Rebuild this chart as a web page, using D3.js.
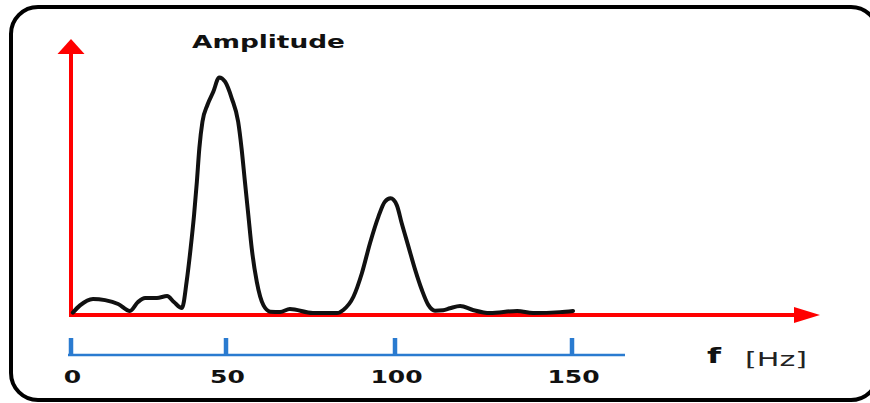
<!DOCTYPE html>
<html>
<head>
<meta charset="utf-8">
<script src="https://cdn.jsdelivr.net/npm/d3@7"></script>
<style>
  html, body { margin: 0; padding: 0; background: #fff; }
  svg { display: block; }
  text { font-family: "DejaVu Sans", Verdana, sans-serif; }
</style>
</head>
<body>
<svg id="chart" width="870" height="403"></svg>
<script>
// Spectrum: frequency (Hz) and relative amplitude
const freqHz = [0.6, 2.9, 7.1, 11.0, 15.2, 19.0, 21.6, 23.9, 27.7, 31.0, 33.2, 35.8,
  37.3, 38.6, 39.7, 40.6, 41.4, 42.4, 44.0, 45.9, 47.8, 49.7, 51.7, 53.6, 54.6, 55.6,
  56.6, 57.6, 59.1, 61.1, 63.1, 66.0, 68.9, 75.7, 82.8, 84.7, 87.7, 90.2, 92.6, 95.1,
  97.0, 98.7, 100.5, 101.9, 103.8, 105.7, 107.6, 109.4, 111.3, 113.6, 115.5, 118.4,
  122.0, 126.8, 134.5, 139.0, 146.6, 150.3];
const amplitude = [0.01, 0.04, 0.067, 0.062, 0.046, 0.017, 0.054, 0.071, 0.071, 0.079, 0.054, 0.029,
  0.139, 0.279, 0.417, 0.555, 0.695, 0.805, 0.875, 0.93, 0.99, 0.972, 0.903, 0.805, 0.695, 0.555,
  0.417, 0.279, 0.139, 0.04, 0.014, 0.012, 0.025, 0.008, 0.008, 0.021, 0.076, 0.174, 0.299, 0.41,
  0.472, 0.486, 0.458, 0.382, 0.285, 0.188, 0.104, 0.042, 0.018, 0.02, 0.028, 0.0375,
  0.021, 0.008, 0.017, 0.008, 0.012, 0.017];

// Frequency scale ticks
const tickValues = [0, 50, 100, 150];
const tickLabels = ["0", "50", "100", "150"];

const svg = d3.select("#chart");

// Hand-spaced frequency ruler: piecewise linear scale
const x = d3.scaleLinear()
  .domain([0, 50, 100, 150, 165])
  .range([71, 226, 395, 572, 625]);
const y = d3.scaleLinear().domain([0, 1]).range([315, 75]);

// Rounded frame (extends past the right edge)
svg.append("rect")
  .attr("x", 11).attr("y", 7)
  .attr("width", 867).attr("height", 393)
  .attr("rx", 27).attr("ry", 27)
  .attr("fill", "none").attr("stroke", "#000").attr("stroke-width", 4);

// Red axes with arrowheads
const red = "#ff0000";
const x0 = x(0), yBase = y(0);
svg.append("line")
  .attr("x1", x0).attr("y1", yBase + 2).attr("x2", x0).attr("y2", 53)
  .attr("stroke", red).attr("stroke-width", 4);
svg.append("path")
  .attr("d", `M${x0},39 L${x0 + 13.5},54 L${x0 - 13.5},54 Z`)
  .attr("fill", red);
svg.append("line")
  .attr("x1", x0 - 2).attr("y1", yBase).attr("x2", 795).attr("y2", yBase)
  .attr("stroke", red).attr("stroke-width", 4);
svg.append("path")
  .attr("d", `M820,${yBase} L794,${yBase - 8} L794,${yBase + 8} Z`)
  .attr("fill", red);

// Spectrum trace
const pts = freqHz.map((f, i) => [f, amplitude[i]]);
svg.append("path")
  .datum(pts)
  .attr("d", d3.line()
    .x(d => x(d[0]))
    .y(d => y(d[1]))
    .curve(d3.curveMonotoneX))
  .attr("fill", "none")
  .attr("stroke", "#111")
  .attr("stroke-width", 4)
  .attr("stroke-linejoin", "round")
  .attr("stroke-linecap", "round");

// Blue frequency ruler
const blue = "#2a7bd0";
const rulerY = 355;
svg.append("line")
  .attr("x1", x(0) - 3).attr("y1", rulerY).attr("x2", x(165)).attr("y2", rulerY)
  .attr("stroke", blue).attr("stroke-width", 2.5);
svg.selectAll(".tick")
  .data(tickValues)
  .join("line")
  .attr("class", "tick")
  .attr("x1", d => x(d)).attr("x2", d => x(d))
  .attr("y1", 338).attr("y2", rulerY + 1)
  .attr("stroke", blue).attr("stroke-width", 4.5);

svg.selectAll(".tlabel")
  .data(tickValues)
  .join("text")
  .attr("class", "tlabel")
  .attr("x", d => x(d) + 1.5)
  .attr("y", 383)
  .attr("text-anchor", "middle")
  .attr("font-size", 18)
  .attr("font-weight", "bold")
  .attr("fill", "#111")
  .attr("textLength", (d, i) => tickLabels[i].length * 17.4)
  .attr("lengthAdjust", "spacingAndGlyphs")
  .text((d, i) => tickLabels[i]);

// Titles
svg.append("text")
  .attr("x", 192).attr("y", 48)
  .attr("font-size", 17).attr("font-weight", "bold").attr("fill", "#111")
  .attr("textLength", 153).attr("lengthAdjust", "spacingAndGlyphs")
  .text("Amplitude");

svg.append("text")
  .attr("x", 707).attr("y", 363)
  .attr("font-size", 21).attr("font-weight", "bold").attr("fill", "#111")
  .attr("textLength", 14).attr("lengthAdjust", "spacingAndGlyphs")
  .text("f");

svg.append("text")
  .attr("x", 745).attr("y", 366)
  .attr("font-size", 20).attr("fill", "#222")
  .attr("textLength", 62).attr("lengthAdjust", "spacingAndGlyphs")
  .text("[Hz]");
</script>
</body>
</html>
